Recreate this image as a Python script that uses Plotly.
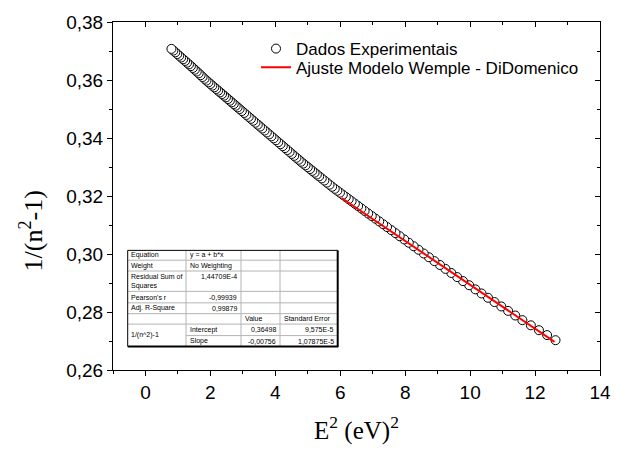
import plotly.graph_objects as go

# ---------------- data ----------------
e2 = [0.80, 0.86, 0.92, 0.98, 1.04, 1.10, 1.16, 1.22, 1.28, 1.34,
      1.40, 1.46, 1.52, 1.58, 1.64, 1.70, 1.76, 1.82, 1.88,
      1.94, 2.00, 2.06, 2.12, 2.18, 2.24, 2.30, 2.36, 2.42, 2.48, 2.54, 2.60,
      2.66, 2.72, 2.78, 2.84, 2.90,
      2.97, 3.04, 3.11, 3.18, 3.25, 3.32, 3.39, 3.46, 3.53, 3.60, 3.67, 3.74,
      3.81, 3.88, 3.95, 4.02, 4.09, 4.16, 4.23, 4.30, 4.37, 4.44, 4.51, 4.58,
      4.65, 4.72, 4.79,
      4.86, 4.93, 5.00, 5.07, 5.14, 5.21, 5.28, 5.35, 5.43, 5.51, 5.59, 5.67, 5.75,
      5.83, 5.91, 5.99, 6.08, 6.17, 6.26, 6.35, 6.45, 6.55, 6.65, 6.75,
      6.86, 6.97, 7.08, 7.20, 7.32, 7.44, 7.57, 7.70, 7.83, 7.97, 8.11, 8.26,
      8.41, 8.57, 8.73,
      8.90, 9.07, 9.24, 9.42, 9.60,
      9.78, 9.97, 10.16, 10.35, 10.55,
      10.75, 10.96, 11.17, 11.39, 11.61,
      11.87, 12.12, 12.37, 12.63]

inv_n2m1 = [0.37073, 0.37014, 0.36954, 0.36895, 0.36835, 0.36776, 0.36716, 0.36657, 0.36597, 0.36538,
            0.36479, 0.36416, 0.36354, 0.36291, 0.36229, 0.36166, 0.36104, 0.36041, 0.35979,
            0.35920, 0.35863, 0.35805, 0.35747, 0.35690, 0.35632, 0.35574, 0.35517, 0.35459, 0.35402, 0.35344, 0.35286,
            0.35229, 0.35171, 0.35113, 0.35056, 0.34998,
            0.34931, 0.34864, 0.34796, 0.34729, 0.34662, 0.34595, 0.34527, 0.34460, 0.34393, 0.34326, 0.34258, 0.34191,
            0.34124, 0.34057, 0.33989, 0.33922, 0.33855, 0.33788, 0.33720, 0.33653, 0.33586, 0.33519, 0.33451, 0.33384,
            0.33317, 0.33250, 0.33182,
            0.33118, 0.33056, 0.32993, 0.32930, 0.32867, 0.32804, 0.32741, 0.32678, 0.32606, 0.32534, 0.32462, 0.32390, 0.32318,
            0.32248, 0.32182, 0.32116, 0.32041, 0.31967, 0.31892, 0.31818, 0.31735, 0.31652, 0.31570, 0.31487,
            0.31398, 0.31309, 0.31221, 0.31124, 0.31027, 0.30930, 0.30825, 0.30720, 0.30615, 0.30502, 0.30389, 0.30268,
            0.30147, 0.30018, 0.29889,
            0.29755, 0.29621, 0.29487, 0.29346, 0.29204,
            0.29065, 0.28923, 0.28781, 0.28640, 0.28491,
            0.28343, 0.28191, 0.28038, 0.27879, 0.27719,
            0.27541, 0.27372, 0.27204, 0.27028]

fit_x = [6.04, 12.60]
fit_y = [0.31932, 0.26972]

x_ticks = [0, 2, 4, 6, 8, 10, 12, 14]
y_ticks = [0.26, 0.28, 0.30, 0.32, 0.34, 0.36, 0.38]

table_col1 = ["Equation", "Weight", "Residual Sum of<br>Squares", "Pearson's r", "Adj. R-Square"]
table_col2 = ["y = a + b*x", "No Weighting", "1,44709E-4", "-0,99939", "0,99879"]
table_head = ["Value", "Standard Error"]
table_dep = "1/(n^2)-1"
table_params = ["Intercept", "Slope"]
table_values = ["0,36498", "-0,00756"]
table_errors = ["9,575E-5", "1,07875E-5"]

# ---------------- layout geometry (pixels) ----------------
W, H = 628, 452
L, R, T, B = 113, 600, 16, 370


def PX(px):
    return (px - L) / (R - L)


def PY(py):
    return (B - py) / (B - T)


SANS = "Liberation Sans, Arial, sans-serif"
SERIF = "Liberation Serif, Times New Roman, serif"

fig = go.Figure()
fig.add_trace(go.Scatter(
    x=e2[::-1], y=inv_n2m1[::-1], mode="markers", name="Dados Experimentais",
    marker=dict(symbol="circle", size=9, color="white", line=dict(color="black", width=1)),
    legend="legend",
))
fig.add_trace(go.Scatter(
    x=fit_x, y=fit_y, mode="lines", name="Ajuste Modelo Wemple - DiDomenico",
    line=dict(color="red", width=2), legend="legend2",
))
fig.add_trace(go.Scatter(x=[None], y=[None], xaxis="x2", yaxis="y2",
                         showlegend=False, hoverinfo="skip"))

axis_common = dict(showgrid=False, zeroline=False, showline=True,
                   linecolor="black", linewidth=1, tickcolor="black",
                   tickwidth=1, ticklen=5)

legend_common = dict(xanchor="left", yanchor="middle",
                     bgcolor="rgba(0,0,0,0)", borderwidth=0,
                     font=dict(family=SANS, size=17, color="black"),
                     itemwidth=30)

fig.update_layout(
    width=W, height=H,
    margin=dict(l=L, r=W - R, t=T, b=H - B, pad=0),
    paper_bgcolor="white", plot_bgcolor="white",
    separators=",.",
    showlegend=True,
    legend=dict(x=PX(256), y=PY(43.5), **legend_common),
    legend2=dict(x=PX(256), y=PY(62.5), **legend_common),
    xaxis=dict(range=[-1, 14], tickmode="array", tickvals=x_ticks,
               ticks="outside", tickfont=dict(family=SANS, size=19, color="black"),
               minor=dict(dtick=1, tick0=-1, ticks="outside", ticklen=3,
                          tickcolor="black", tickwidth=1),
               title=dict(text="E<sup>2</sup> (eV)<sup>2</sup>",
                          font=dict(family=SERIF, size=25, color="black"),
                          standoff=19),
               **axis_common),
    yaxis=dict(range=[0.26, 0.38], tickmode="array", tickvals=y_ticks,
               tickformat=".2f",
               ticks="outside", tickfont=dict(family=SANS, size=19, color="black"),
               minor=dict(dtick=0.01, tick0=0.26, ticks="outside", ticklen=3,
                          tickcolor="black", tickwidth=1),
               **axis_common),
    xaxis2=dict(range=[-1, 14], overlaying="x", side="top", anchor="y2",
                tickmode="array", tickvals=x_ticks, showticklabels=False,
                ticks="inside",
                minor=dict(dtick=1, tick0=-1, ticks="inside", ticklen=3,
                           tickcolor="black", tickwidth=1),
                **axis_common),
    yaxis2=dict(range=[0.26, 0.38], overlaying="y", side="right", anchor="x2",
                tickmode="array", tickvals=y_ticks, showticklabels=False,
                ticks="inside",
                minor=dict(dtick=0.01, tick0=0.26, ticks="inside", ticklen=3,
                           tickcolor="black", tickwidth=1),
                **axis_common),
)

# ---------------- inset fit table ----------------
cols = [127.7, 186, 241, 280, 337.7]
rows = [248.3, 258.3, 269.3, 290, 301.7, 312.7, 323.3, 335, 346]
shapes = []
shapes.append(dict(type="rect", xref="paper", yref="paper",
                   x0=PX(cols[0]), x1=PX(cols[-1]), y0=PY(rows[-1]), y1=PY(rows[0]),
                   fillcolor="white", line=dict(width=0), layer="above"))
grey = "#b4b4b4"
for i, ry in enumerate(rows[1:-1], start=1):
    x0 = cols[1] if i == 7 else cols[0]
    shapes.append(dict(type="line", xref="paper", yref="paper",
                       x0=PX(x0), x1=PX(cols[-1]), y0=PY(ry), y1=PY(ry),
                       line=dict(color=grey, width=1), layer="above"))
for cx in cols[1:-1]:
    shapes.append(dict(type="line", xref="paper", yref="paper",
                       x0=PX(cx), x1=PX(cx), y0=PY(rows[0]), y1=PY(rows[-1]),
                       line=dict(color=grey, width=1), layer="above"))
# outer border
shapes.append(dict(type="line", xref="paper", yref="paper",
                   x0=PX(cols[0]), x1=PX(cols[-1]), y0=PY(rows[0]), y1=PY(rows[0]),
                   line=dict(color="black", width=1), layer="above"))
shapes.append(dict(type="line", xref="paper", yref="paper",
                   x0=PX(cols[0]), x1=PX(cols[0]), y0=PY(rows[0]), y1=PY(rows[-1]),
                   line=dict(color="black", width=1), layer="above"))
shapes.append(dict(type="line", xref="paper", yref="paper",
                   x0=PX(cols[-1]), x1=PX(cols[-1]), y0=PY(rows[0]), y1=PY(rows[-1] + 0.5),
                   line=dict(color="black", width=2), layer="above"))
shapes.append(dict(type="line", xref="paper", yref="paper",
                   x0=PX(cols[0]), x1=PX(cols[-1] + 0.5), y0=PY(rows[-1]), y1=PY(rows[-1]),
                   line=dict(color="black", width=2), layer="above"))

annots = []


def cell(text, px, py, xanchor="left", yanchor="middle"):
    annots.append(dict(text=text, xref="paper", yref="paper", x=PX(px), y=PY(py),
                       xanchor=xanchor, yanchor=yanchor, showarrow=False,
                       font=dict(family=SANS, size=7, color="black"),
                       align="left", borderpad=0))


for i in range(5):
    top, bot = rows[i], rows[i + 1]
    mid = (top + bot) / 2
    if i == 2:
        cell(table_col1[i], cols[0] + 2.5, top + 1, yanchor="top")
        cell(table_col2[i], cols[2] - 3, top + 1, xanchor="right", yanchor="top")
    else:
        cell(table_col1[i], cols[0] + 2.5, mid)
        if i < 2:
            cell(table_col2[i], cols[1] + 2.5, mid)
        else:
            cell(table_col2[i], cols[2] - 3, mid, xanchor="right")
mid5 = (rows[5] + rows[6]) / 2
cell(table_head[0], cols[2] + 2.5, mid5)
cell(table_head[1], cols[3] + 2.5, mid5)
cell(table_dep, cols[0] + 2.5, (rows[6] + rows[8]) / 2)
for k in range(2):
    mid = (rows[6 + k] + rows[7 + k]) / 2
    cell(table_params[k], cols[1] + 2.5, mid)
    cell(table_values[k], cols[3] - 3, mid, xanchor="right")
    cell(table_errors[k], cols[4] - 3, mid, xanchor="right")

# y-axis title (placed where the reference has it)
annots.append(dict(text="1/(n<sup>2</sup>-1)", xref="paper", yref="paper",
                   x=PX(31), y=PY(229), xanchor="center", yanchor="middle",
                   textangle=-90, showarrow=False,
                   font=dict(family=SERIF, size=26, color="black")))

fig.update_layout(shapes=shapes, annotations=annots)

fig.write_html("out.html", config={"displayModeBar": False},
               post_script="document.body.style.margin='0px';")
